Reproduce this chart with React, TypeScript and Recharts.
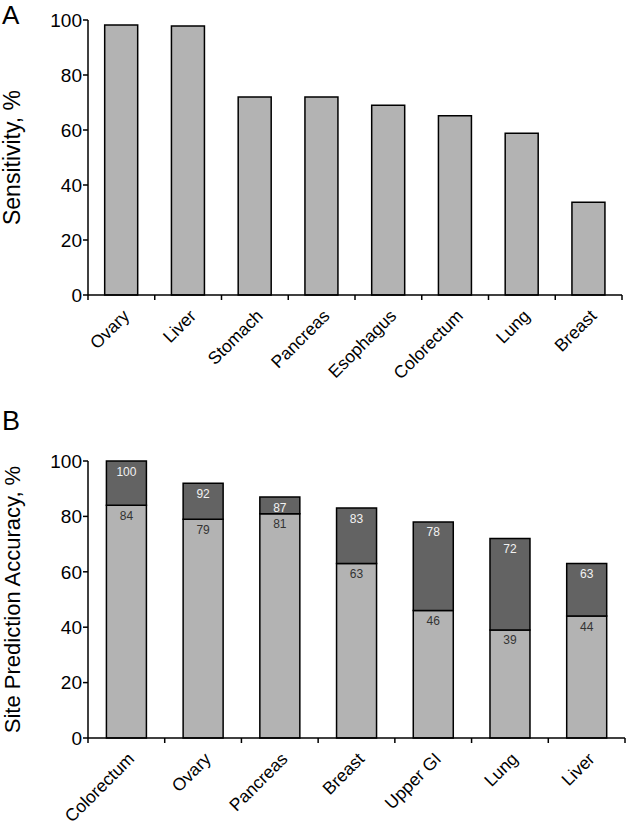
import { BarChart, Bar, XAxis, YAxis, LabelList } from 'recharts'

const sensitivityCategories = ['Ovary', 'Liver', 'Stomach', 'Pancreas', 'Esophagus', 'Colorectum', 'Lung', 'Breast']
const sensitivityValues = [98.2, 97.8, 72, 72, 69, 65.2, 58.8, 33.7]

const siteCategories = ['Colorectum', 'Ovary', 'Pancreas', 'Breast', 'Upper GI', 'Lung', 'Liver']
const siteCorrect = [84, 79, 81, 63, 46, 39, 44]
const siteTotal = [100, 92, 87, 83, 78, 72, 63]

const yTicks = [0, 20, 40, 60, 80, 100]

const sensitivityData = sensitivityCategories.map((name, i) => ({ name, value: sensitivityValues[i] }))
const siteData = siteCategories.map((name, i) => ({
  name,
  correct: siteCorrect[i],
  extra: siteTotal[i] - siteCorrect[i],
  total: siteTotal[i],
}))

const LIGHT = '#b3b3b3'
const DARK = '#636363'
const FONT = '"Liberation Sans", Arial, sans-serif'

// category label slanted 45deg, plus the Excel-style tick marks between categories
function SlantTick(props: any) {
  const { x, y, payload, index } = props
  const half = payload.offset ?? 0
  return (
    <g>
      {index === 0 && <line x1={x - half} x2={x - half} y1={y} y2={y + 5} stroke="#000" strokeWidth={1.5} />}
      <line x1={x + half} x2={x + half} y1={y} y2={y + 5} stroke="#000" strokeWidth={1.5} />
      <g transform={`translate(${x + 9},${y + 22})`}>
        <text textAnchor="end" transform="rotate(-45)" style={{ fontSize: 17.5, fontFamily: FONT }} fill="#000">
          {payload.value}
        </text>
      </g>
    </g>
  )
}

export default function App() {
  return (
    <div style={{ position: 'absolute', left: 0, top: 0, width: 629, height: 829, background: '#fff', fontFamily: FONT }}>
      <div style={{ position: 'absolute', left: 2, top: 0, fontSize: 26, lineHeight: '30px', color: '#000' }}>A</div>
      <div style={{ position: 'absolute', left: 2, top: 406, fontSize: 27, lineHeight: '31px', color: '#000' }}>B</div>

      <div style={{ position: 'absolute', left: 0, top: 0 }}>
        <BarChart width={629} height={400} data={sensitivityData} margin={{ top: 20, right: 7, left: 0, bottom: 0 }} barCategoryGap="25%">
          <XAxis
            dataKey="name"
            stroke="#000"
            strokeWidth={1.5}
            tickLine={false}
            tickSize={0}
            tickMargin={0}
            interval={0}
            height={105}
            tick={<SlantTick />}
          />
          <YAxis
            domain={[0, 100]}
            ticks={yTicks}
            interval={0}
            width={88}
            tickSize={5}
            tickMargin={1}
            stroke="#000"
            strokeWidth={1.5}
            tick={{ fill: '#000', fontSize: 19 }}
            label={{ value: 'Sensitivity, %', angle: -90, position: 'center', dx: -32, style: { fill: '#000', fontSize: 23 } }}
          />
          <Bar dataKey="value" fill={LIGHT} stroke="#000" strokeWidth={1.5} isAnimationActive={false} />
        </BarChart>
      </div>

      <div style={{ position: 'absolute', left: 0, top: 400 }}>
        <BarChart width={629} height={429} data={siteData} margin={{ top: 61, right: 4, left: 0, bottom: 0 }} barCategoryGap="24%">
          <XAxis
            dataKey="name"
            stroke="#000"
            strokeWidth={1.5}
            tickLine={false}
            tickSize={0}
            tickMargin={0}
            interval={0}
            height={91}
            tick={<SlantTick />}
          />
          <YAxis
            domain={[0, 100]}
            ticks={yTicks}
            interval={0}
            width={88}
            tickSize={5}
            tickMargin={1}
            stroke="#000"
            strokeWidth={1.5}
            tick={{ fill: '#000', fontSize: 19 }}
            label={{ value: 'Site Prediction Accuracy, %', angle: -90, position: 'center', dx: -32, style: { fill: '#000', fontSize: 22 } }}
          />
          <Bar dataKey="correct" stackId="s" fill={LIGHT} stroke="#000" strokeWidth={1.5} isAnimationActive={false}>
            <LabelList dataKey="correct" position="insideTop" offset={6} fill="#333" fontSize={12} />
          </Bar>
          <Bar dataKey="extra" stackId="s" fill={DARK} stroke="#000" strokeWidth={1.5} isAnimationActive={false}>
            <LabelList dataKey="total" position="insideTop" offset={6} fill="#f2f2f2" fontSize={12} />
          </Bar>
        </BarChart>
      </div>
    </div>
  )
}
